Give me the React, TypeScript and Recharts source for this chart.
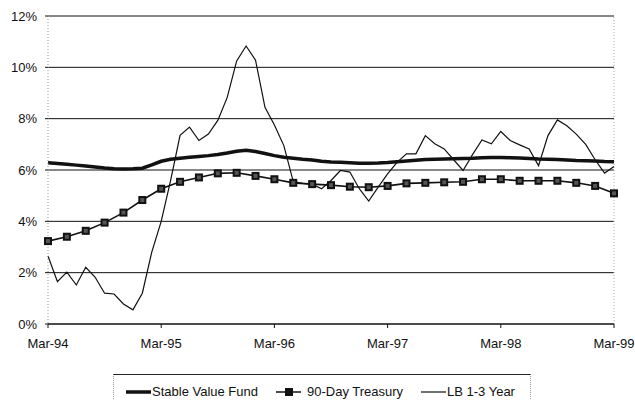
import React from 'react';
import { LineChart, Line, XAxis, YAxis, CartesianGrid, ReferenceLine } from 'recharts';

// tick labels, one per year (every 12 months)
const yearLabels = ['Mar-94', 'Mar-95', 'Mar-96', 'Mar-97', 'Mar-98', 'Mar-99'];
const yTicks = [0, 2, 4, 6, 8, 10, 12];

// monthly, Mar-94 .. Mar-99 (61 points)
const stableValue = [
	6.28, 6.25, 6.22, 6.19, 6.16, 6.12, 6.08, 6.05, 6.04, 6.05,
	6.07, 6.2, 6.34, 6.42, 6.46, 6.5, 6.53, 6.56, 6.6, 6.66, 6.73, 6.77,
	6.72, 6.64, 6.56, 6.5, 6.46, 6.42, 6.39, 6.34, 6.31, 6.3, 6.28, 6.26,
	6.26, 6.27, 6.29, 6.32, 6.35, 6.38, 6.41, 6.42, 6.43, 6.44, 6.45, 6.46,
	6.48, 6.49, 6.49, 6.48, 6.47, 6.45, 6.43, 6.42, 6.41, 6.39, 6.37, 6.36,
	6.35, 6.33, 6.32
];

const lb13 = [
	2.65, 1.65, 2.02, 1.52, 2.21, 1.82, 1.2, 1.17, 0.78, 0.55,
	1.2, 2.8, 4.0, 5.6, 7.35, 7.67, 7.15, 7.4, 7.93, 8.83, 10.25, 10.83,
	10.28, 8.44, 7.75, 6.95, 5.55, 5.48, 5.45, 5.27, 5.59, 5.98, 5.92, 5.27,
	4.79, 5.33, 5.85, 6.3, 6.63, 6.63, 7.34, 7.02, 6.82, 6.4, 5.98, 6.6,
	7.17, 7.02, 7.5, 7.15, 6.98, 6.82, 6.17, 7.34, 7.95, 7.72, 7.4, 7.0,
	6.4, 5.88, 6.14
];

// every second month, Mar-94 .. Mar-99 (31 points)
const treasury90 = [
	3.23, 3.4, 3.63, 3.95, 4.34, 4.83, 5.27, 5.54, 5.71, 5.87, 5.89,
	5.77, 5.64, 5.5, 5.45, 5.41, 5.35, 5.33, 5.38, 5.48, 5.5, 5.52,
	5.54, 5.64, 5.64, 5.58, 5.58, 5.58, 5.5, 5.38, 5.09
];

const data = stableValue.map((v, i) => ({
	i,
	stable: v,
	lb: lb13[i],
	tbill: i % 2 === 0 ? treasury90[i / 2] : null
}));

const font = '"Liberation Sans", Arial, sans-serif';

const SquareDot = (props: any) => {
	const { cx, cy, index } = props;
	if (cx == null || cy == null) return <g key={`e${index}`} />;
	return (
		<g key={`d${index}`}>
			<rect x={cx - 4} y={cy - 4} width={8} height={8} fill="#111" />
			<rect x={cx - 2} y={cy - 2} width={4} height={4} fill="#555" />
		</g>
	);
};

const LegendBox = () => (
	<div
		style={{
			position: 'absolute',
			left: 113,
			top: 374,
			width: 416,
			height: 34,
			borderTop: '1px solid #222',
			borderLeft: '1px dotted #999',
			borderRight: '1px dotted #999',
			fontFamily: font,
			fontSize: 13,
			color: '#111'
		}}
	>
		<svg width={30} height={10} style={{ position: 'absolute', left: 11, top: 12 }}>
			<line x1={1} y1={5} x2={26} y2={5} stroke="#111" strokeWidth={3.5} />
		</svg>
		<span style={{ position: 'absolute', left: 38, top: 9 }}>Stable Value Fund</span>
		<svg width={30} height={10} style={{ position: 'absolute', left: 161, top: 12 }}>
			<line x1={1} y1={5} x2={26} y2={5} stroke="#111" strokeWidth={1.5} />
			<rect x={10} y={1} width={8} height={8} fill="#111" />
		</svg>
		<span style={{ position: 'absolute', left: 193, top: 9 }}>90-Day Treasury</span>
		<svg width={30} height={10} style={{ position: 'absolute', left: 306, top: 12 }}>
			<line x1={1} y1={5} x2={26} y2={5} stroke="#111" strokeWidth={1.2} />
		</svg>
		<span style={{ position: 'absolute', left: 333, top: 9 }}>LB 1-3 Year</span>
	</div>
);

const App = () => {
	return (
		<div
			style={{
				position: 'absolute',
				left: 0,
				top: 0,
				width: 635,
				height: 400,
				overflow: 'hidden',
				background: '#fff'
			}}
		>
			<LineChart
				width={635}
				height={400}
				data={data}
				margin={{ top: 16, right: 21, bottom: 46, left: 0 }}
			>
				<CartesianGrid vertical={false} stroke="#111" strokeWidth={1} />
				<XAxis
					dataKey="i"
					type="number"
					domain={[0, 60]}
					ticks={[0, 12, 24, 36, 48, 60]}
					tickFormatter={(v: number) => yearLabels[v / 12]}
					height={30}
					tickSize={4}
					tickMargin={11}
					axisLine={{ stroke: '#111' }}
					tickLine={{ stroke: '#111' }}
					tick={{ fill: '#111', fontSize: 13, fontFamily: font }}
				/>
				<YAxis
					type="number"
					domain={[0, 12]}
					ticks={yTicks}
					tickFormatter={(v: number) => `${v}%`}
					width={48}
					tickSize={3}
					tickMargin={8}
					axisLine={{ stroke: '#999', strokeDasharray: '1 2' }}
					tickLine={{ stroke: '#111' }}
					tick={{ fill: '#111', fontSize: 13, fontFamily: font }}
				/>
				<ReferenceLine x={60} stroke="#aaa" strokeDasharray="1 2" />
				<Line
					dataKey="lb"
					stroke="#111"
					strokeWidth={1.2}
					dot={false}
					isAnimationActive={false}
				/>
				<Line
					dataKey="tbill"
					stroke="#111"
					strokeWidth={1.6}
					connectNulls
					dot={SquareDot}
					activeDot={false}
					isAnimationActive={false}
				/>
				<Line
					dataKey="stable"
					stroke="#111"
					strokeWidth={3.5}
					dot={false}
					isAnimationActive={false}
				/>
			</LineChart>
			<LegendBox />
		</div>
	);
};

export default App;
